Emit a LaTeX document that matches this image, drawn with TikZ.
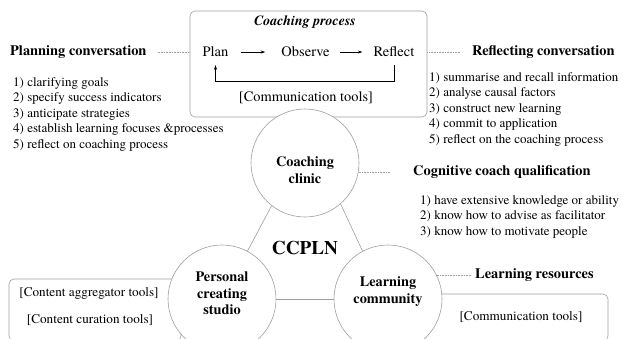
\documentclass[tikz,border=0pt]{standalone}
\usepackage{fontspec}
\setmainfont{texgyretermes}[Extension=.otf, UprightFont=*-regular, BoldFont=*-bold, ItalicFont=*-italic, BoldItalicFont=*-bolditalic]
\usetikzlibrary{arrows.meta}
\definecolor{edge}{gray}{0.62}
\begin{document}
\begin{tikzpicture}[x=1pt,y=-1pt,
  heading/.style={font=\fontsize{14.4}{17}\selectfont\bfseries, inner sep=0pt, anchor=west},
  itemlist/.style={font=\fontsize{13}{15.5}\selectfont, align=left, inner sep=0pt, anchor=north west},
  hub/.style={circle, draw=edge, fill=white, line width=0.6pt, minimum size=108pt, inner sep=0pt},
  hubtext/.style={font=\fontsize{14.3}{16.5}\selectfont\bfseries, align=center, inner sep=0pt},
  panel/.style={draw=edge, line width=0.6pt, rounded corners=5pt, inner sep=0pt},
  link/.style={draw=edge, line width=0.6pt},
  leader/.style={draw=edge, densely dotted, line width=0.6pt},
  stage/.style={font=\fontsize{14.5}{17}\selectfont, inner sep=0pt},
  tooltext/.style={font=\fontsize{13.2}{16}\selectfont, inner sep=0pt},
  flow/.style={-{Stealth[length=4.5pt,width=3pt]}, line width=0.5pt},
]
\useasboundingbox (0,0) rectangle (627,338);

% ---- panels (drawn first, the hubs sit on top of them) ----
\node[panel, minimum width=237pt, minimum height=106pt] (proc) at (308.5,64) {};
\node[panel, minimum width=172pt, minimum height=62pt] (studioPanel) at (95,310) {};
\node[panel, minimum width=184pt, minimum height=47pt] (communityPanel) at (516,317.5) {};

% ---- coaching process ----
\node[font=\fontsize{14}{17}\selectfont\bfseries\itshape, inner sep=0pt] (title) at (305,22) {Coaching process};
\node[stage] (plan) at (215.5,52) {Plan};
\node[stage] (observe) at (305.5,52) {Observe};
\node[stage] (reflect) at (394,52) {Reflect};
\draw[flow, shorten <=12pt, shorten >=16pt] (plan.east) -- (observe.west);
\draw[flow, shorten <=10pt, shorten >=11pt] (observe.east) -- (reflect.west);
\coordinate (loop) at (305,81);
\draw[flow, shorten <=8pt, shorten >=8pt] (reflect.south) -- (reflect.south |- loop) -| (plan.south);
\node[font=\fontsize{14.4}{17}\selectfont, inner sep=0pt] (procTools) at (306,98) {[Communication tools]};

% ---- hubs ----
\node[hub] (clinic) at (305,163) {};
\node[hub] (studio) at (222,299) {};
\node[hub] (community) at (388,299) {};
\draw[link] (clinic.232) -- (studio.62);
\draw[link] (clinic.311) -- (community.118);
\draw[link] (studio.east) -- (community.west);

\node[hubtext] (clinicLabel) at (305,170) {Coaching\\clinic};
\node[hubtext] (studioLabel) at (222,293.5) {Personal\\creating\\studio};
\node[hubtext] (communityLabel) at (388,291.5) {Learning\\community};
\node[font=\fontsize{19.2}{22}\selectfont\bfseries, inner sep=0pt] (ccpln) at (305,248) {CCPLN};

% ---- planning conversation ----
\node[heading] (planHead) at (10,52) {Planning conversation};
\draw[leader, shorten <=11pt] (planHead.east) -- (planHead.east -| proc.west);
\node[itemlist] (planList) at (13,77) {1) clarifying goals\\2) specify success indicators\\3) anticipate strategies\\4) establish learning focuses \&processes\\5) reflect on coaching process};

% ---- reflecting conversation ----
\node[heading] (reflHead) at (472,52) {Reflecting conversation};
\draw[leader, shorten >=12pt] (reflHead.west -| proc.east) -- (reflHead.west);
\node[itemlist] (reflList) at (429,72) {1) summarise and recall information\\2) analyse causal factors\\3) construct new learning\\4) commit to application\\5) reflect on the coaching process};

% ---- cognitive coach qualification ----
\node[heading] (cogHead) at (413,172) {Cognitive coach qualification};
\draw[leader, shorten >=23pt] (cogHead.west -| clinic.-8) -- (cogHead.west);
\node[itemlist] (cogList) at (420,195) {1) have extensive knowledge or ability\\2) know how to advise as facilitator\\3) know how to motivate people};

% ---- learning resources ----
\node[heading] (resHead) at (475,275) {Learning resources};
\draw[leader, shorten >=3pt] (resHead.west -| community.26) -- (resHead.west);

% ---- tool panels ----
\node[tooltext] (aggregator) at (89,293) {[Content aggregator tools]};
\node[tooltext] (curation) at (90,320) {[Content curation tools]};
\node[tooltext] (commTools) at (521,317) {[Communication tools]};
\end{tikzpicture}
\end{document}
